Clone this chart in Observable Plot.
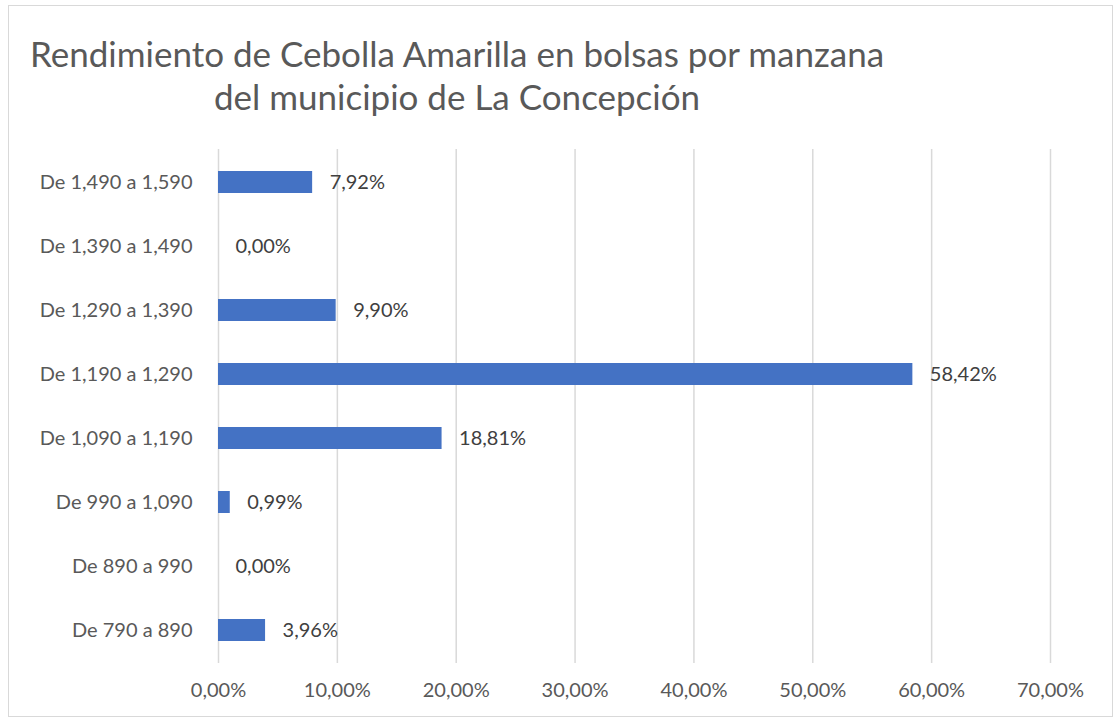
<!DOCTYPE html>
<html>
<head>
<meta charset="utf-8">
<script src="https://cdn.jsdelivr.net/npm/d3@7"></script>
<script src="https://cdn.jsdelivr.net/npm/@observablehq/plot@0.6"></script>
<style>
  html, body { margin: 0; padding: 0; background: #fff; }
  #frame { position: absolute; left: 8px; top: 5px; width: 1103px; height: 710px; border: 1px solid #d9d9d9; }
  #wrap { position: absolute; left: 0; top: 0; width: 1117px; height: 721px; }
  #title { height: 140px; box-sizing: border-box; padding-top: 32px; text-align: center; font-family: Lato, sans-serif; font-size: 35px; line-height: 43px; color: #595959; padding-right: 203px; }
  #title div { white-space: nowrap; }
</style>
</head>
<body>
<div id="frame"></div>
<div id="wrap">
  <div id="title"><div>Rendimiento de Cebolla Amarilla en bolsas por manzana</div><div>del municipio de La Concepción</div></div>
  <div id="chart"></div>
</div>
<script>
const categories = ["De 1,490 a 1,590", "De 1,390 a 1,490", "De 1,290 a 1,390", "De 1,190 a 1,290", "De 1,090 a 1,190", "De 990 a 1,090", "De 890 a 990", "De 790 a 890"];
const values = [7.92, 0.00, 9.90, 58.42, 18.81, 0.99, 0.00, 3.96];
const xTicks = [0, 10, 20, 30, 40, 50, 60, 70];

const data = categories.map((c, i) => ({category: c, value: values[i]}));
const fmt = v => v.toFixed(2).replace(".", ",") + "%";

const chart = Plot.plot({
  width: 1117,
  height: 581,
  marginTop: 9,
  marginBottom: 58,
  marginLeft: 218,
  marginRight: 67,
  style: {fontFamily: "Lato, sans-serif", fontSize: "20px", color: "#595959", background: "transparent"},
  x: {domain: [0, 70], ticks: xTicks, tickFormat: fmt, label: null},
  y: {domain: categories, paddingInner: 0.66, paddingOuter: 0.33, label: null},
  marks: [
    Plot.gridX(xTicks, {stroke: "#d9d9d9", strokeOpacity: 1, strokeWidth: 1.5}),
    Plot.axisX(xTicks, {tickSize: 0, tickPadding: 19, tickFormat: fmt, fill: "#595959", fontSize: 20}),
    Plot.axisY({tickSize: 0, tickPadding: 26, fill: "#595959", fontSize: 20}),
    Plot.barX(data, {x: "value", y: "category", fill: "#4472C4"}),
    Plot.text(data, {x: "value", y: "category", text: d => fmt(d.value), textAnchor: "start", dx: 17, fill: "#404040", fontSize: 20})
  ]
});
document.getElementById("chart").appendChild(chart);
</script>
</body>
</html>
